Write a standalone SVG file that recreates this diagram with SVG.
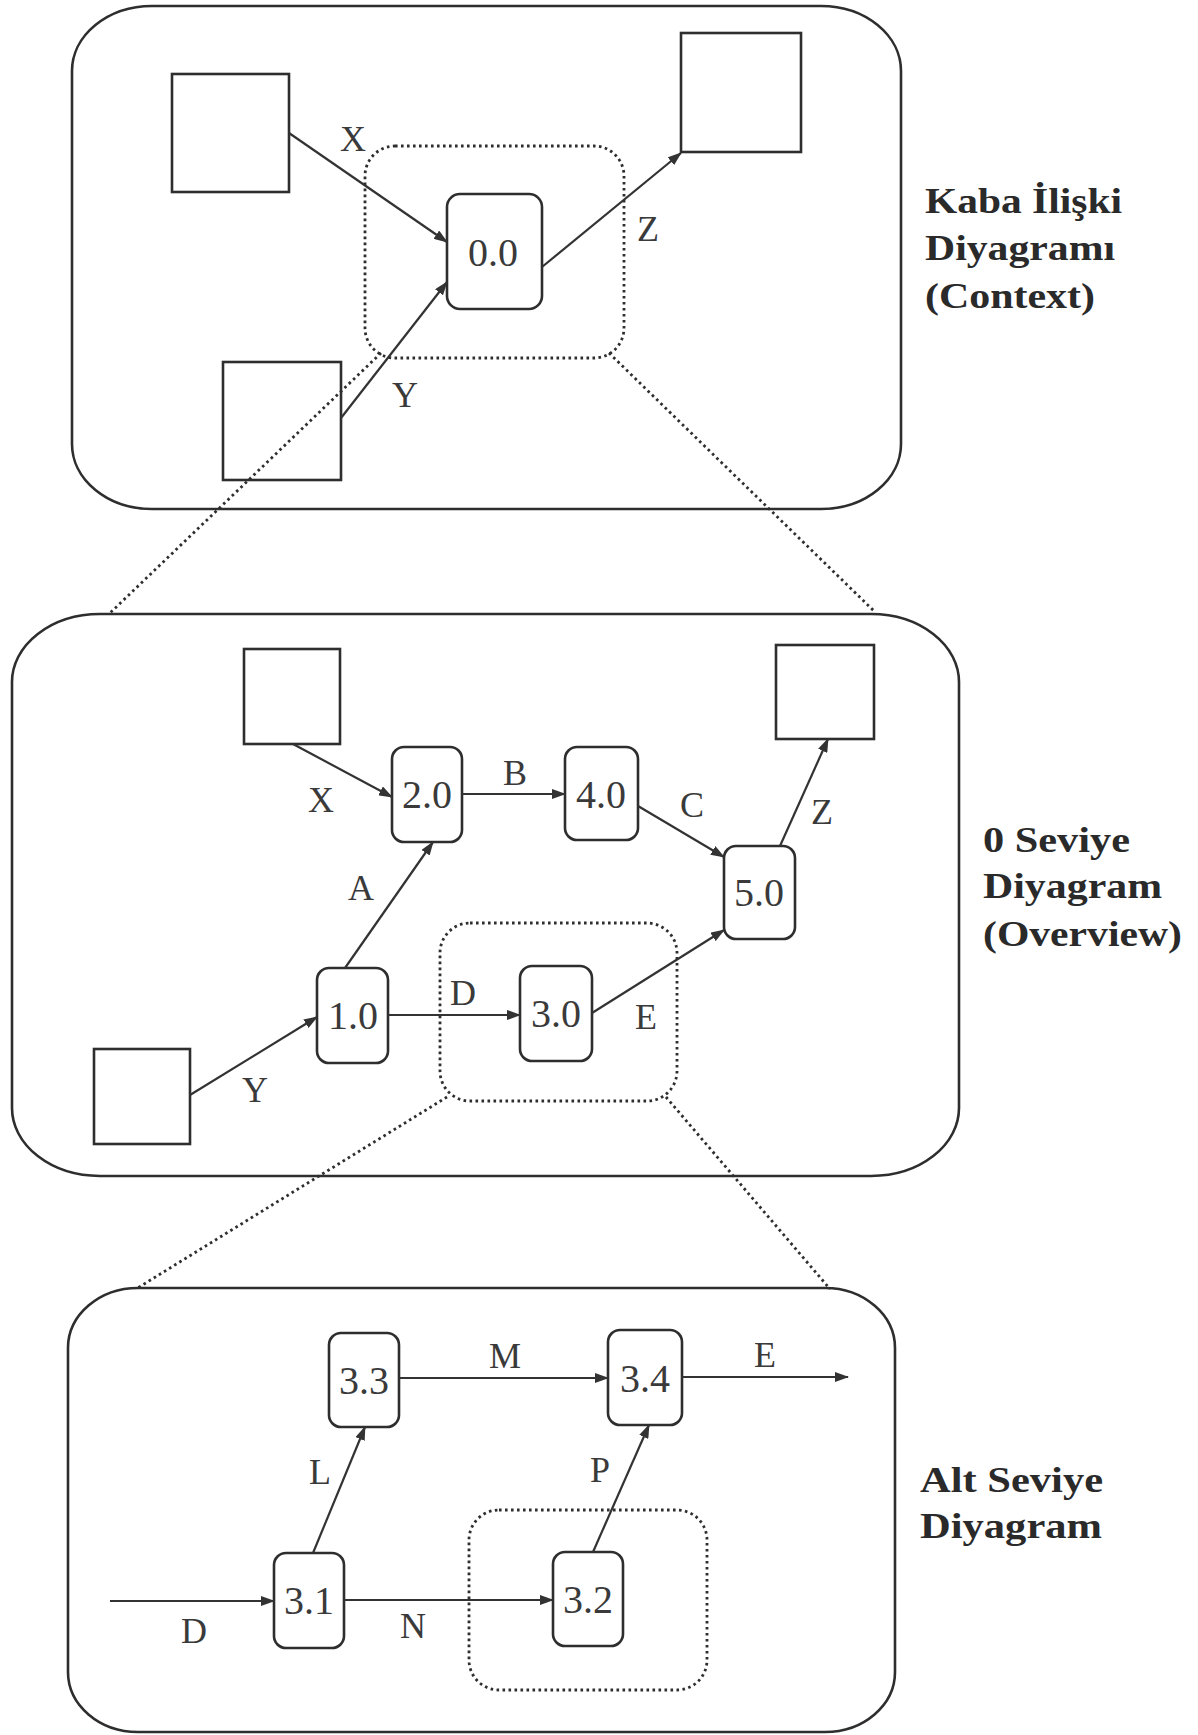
<svg xmlns="http://www.w3.org/2000/svg" width="1198" height="1735" viewBox="0 0 1198 1735">
<style>
.panel{fill:none;stroke:#2e2e2e;stroke-width:2.6}
.ext{fill:none;stroke:#2e2e2e;stroke-width:2.6}
.proc{fill:#fff;stroke:#2e2e2e;stroke-width:2.6}
.dot{fill:none;stroke:#2e2e2e;stroke-width:2.8;stroke-dasharray:2.6 3.4}
.flow{fill:none;stroke:#333;stroke-width:2.2;marker-end:url(#ah)}
.pl{font-family:"Liberation Serif","Times New Roman",serif;font-size:40px;fill:#3a3a3a;text-anchor:middle}
.fl{font-family:"Liberation Serif","Times New Roman",serif;font-size:36px;fill:#3a3a3a;text-anchor:middle}
.side{font-family:"Liberation Serif","Times New Roman",serif;font-size:36px;font-weight:bold;fill:#2a2a2a}
</style>
<defs>
<marker id="ah" markerUnits="userSpaceOnUse" markerWidth="14" markerHeight="10" refX="13" refY="5" orient="auto">
<path d="M0,0 L14,5 L0,10 z" fill="#333"/>
</marker>
</defs>
<rect width="1198" height="1735" fill="#fff"/>

<!-- Panel 1: Context -->
<g id="panel-context">
<rect class="panel" x="72" y="6" width="829" height="503" rx="80" ry="65"/>
<g id="ctx-dotted"><rect class="dot" x="365" y="146" width="259" height="212" rx="30"/></g>
<g id="ctx-ext-x"><rect class="ext" x="172" y="74" width="117" height="118"/></g>
<g id="ctx-ext-z"><rect class="ext" x="681" y="33" width="120" height="119"/></g>
<g id="ctx-ext-y"><rect class="ext" x="223" y="362" width="118" height="118"/></g>
<g id="p0-0"><rect class="proc" x="447" y="194" width="95" height="115" rx="13"/><text class="pl" x="493" y="266">0.0</text></g>
<g id="ctx-title">
<text class="side" x="925" y="213" textLength="197" lengthAdjust="spacingAndGlyphs">Kaba İlişki</text>
<text class="side" x="925" y="260" textLength="190" lengthAdjust="spacingAndGlyphs">Diyagramı</text>
<text class="side" x="925" y="308" textLength="170" lengthAdjust="spacingAndGlyphs">(Context)</text>
</g>
</g>

<!-- Panel 2: Overview -->
<g id="panel-overview">
<rect class="panel" x="12" y="614" width="947" height="562" rx="88" ry="68"/>
<g id="ov-dotted"><rect class="dot" x="440" y="923" width="237" height="178" rx="30"/></g>
<g id="ov-ext-x"><rect class="ext" x="244" y="649" width="96" height="95"/></g>
<g id="ov-ext-z"><rect class="ext" x="776" y="645" width="98" height="94"/></g>
<g id="ov-ext-y"><rect class="ext" x="94" y="1049" width="96" height="95"/></g>
<g id="p2-0"><rect class="proc" x="392" y="747" width="70" height="95" rx="12"/><text class="pl" x="427" y="808">2.0</text></g>
<g id="p4-0"><rect class="proc" x="565" y="747" width="73" height="93" rx="12"/><text class="pl" x="601" y="808">4.0</text></g>
<g id="p5-0"><rect class="proc" x="724" y="846" width="71" height="93" rx="12"/><text class="pl" x="759" y="906">5.0</text></g>
<g id="p1-0"><rect class="proc" x="317" y="968" width="71" height="95" rx="12"/><text class="pl" x="353" y="1029">1.0</text></g>
<g id="p3-0"><rect class="proc" x="520" y="966" width="72" height="95" rx="12"/><text class="pl" x="556" y="1027">3.0</text></g>
<g id="ov-title">
<text class="side" x="983" y="852" textLength="147" lengthAdjust="spacingAndGlyphs">0 Seviye</text>
<text class="side" x="983" y="898" textLength="179" lengthAdjust="spacingAndGlyphs">Diyagram</text>
<text class="side" x="983" y="946" textLength="199" lengthAdjust="spacingAndGlyphs">(Overview)</text>
</g>
</g>

<!-- Panel 3: Alt Seviye -->
<g id="panel-detail">
<rect class="panel" x="68" y="1288" width="827" height="444" rx="70" ry="60"/>
<g id="dt-dotted"><rect class="dot" x="469" y="1510" width="238" height="180" rx="30"/></g>
<g id="p3-3"><rect class="proc" x="329" y="1333" width="70" height="94" rx="12"/><text class="pl" x="364" y="1394">3.3</text></g>
<g id="p3-4"><rect class="proc" x="608" y="1330" width="74" height="95" rx="12"/><text class="pl" x="645" y="1392">3.4</text></g>
<g id="p3-1"><rect class="proc" x="274" y="1553" width="70" height="95" rx="12"/><text class="pl" x="309" y="1614">3.1</text></g>
<g id="p3-2"><rect class="proc" x="553" y="1552" width="70" height="94" rx="12"/><text class="pl" x="588" y="1613">3.2</text></g>
<g id="dt-title">
<text class="side" x="920" y="1492" textLength="183" lengthAdjust="spacingAndGlyphs">Alt Seviye</text>
<text class="side" x="920" y="1538" textLength="182" lengthAdjust="spacingAndGlyphs">Diyagram</text>
</g>
</g>

<!-- Connectors -->
<g id="connectors">
<!-- zoom lines -->
<line class="dot" x1="381" y1="353" x2="110" y2="613"/>
<line class="dot" x1="609" y1="353" x2="874" y2="611"/>
<line class="dot" x1="447" y1="1097" x2="136" y2="1289"/>
<line class="dot" x1="666" y1="1097" x2="830" y2="1289"/>
<!-- panel 1 flows -->
<line class="flow" x1="289" y1="133" x2="447" y2="242"/>
<line class="flow" x1="341" y1="418" x2="447" y2="282"/>
<line class="flow" x1="542" y1="267" x2="681" y2="153"/>
<text class="fl" x="353" y="151">X</text>
<text class="fl" x="405" y="407">Y</text>
<text class="fl" x="648" y="241">Z</text>
<!-- panel 2 flows -->
<line class="flow" x1="293" y1="744" x2="392" y2="797"/>
<line class="flow" x1="462" y1="794" x2="565" y2="794"/>
<line class="flow" x1="638" y1="806" x2="724" y2="857"/>
<line class="flow" x1="780" y1="846" x2="828" y2="739"/>
<line class="flow" x1="345" y1="968" x2="433" y2="842"/>
<line class="flow" x1="388" y1="1015" x2="520" y2="1015"/>
<line class="flow" x1="592" y1="1013" x2="724" y2="930"/>
<line class="flow" x1="190" y1="1095" x2="317" y2="1017"/>
<text class="fl" x="321" y="812">X</text>
<text class="fl" x="515" y="785">B</text>
<text class="fl" x="692" y="817">C</text>
<text class="fl" x="822" y="824">Z</text>
<text class="fl" x="361" y="900">A</text>
<text class="fl" x="463" y="1005">D</text>
<text class="fl" x="646" y="1029">E</text>
<text class="fl" x="255" y="1102">Y</text>
<!-- panel 3 flows -->
<line class="flow" x1="110" y1="1601" x2="274" y2="1601"/>
<line class="flow" x1="344" y1="1600" x2="553" y2="1600"/>
<line class="flow" x1="313" y1="1553" x2="365" y2="1427"/>
<line class="flow" x1="593" y1="1552" x2="649" y2="1425"/>
<line class="flow" x1="399" y1="1378" x2="608" y2="1378"/>
<line class="flow" x1="682" y1="1377" x2="848" y2="1377"/>
<text class="fl" x="194" y="1643">D</text>
<text class="fl" x="413" y="1638">N</text>
<text class="fl" x="320" y="1484">L</text>
<text class="fl" x="600" y="1482">P</text>
<text class="fl" x="505" y="1368">M</text>
<text class="fl" x="765" y="1367">E</text>
</g>
</svg>
